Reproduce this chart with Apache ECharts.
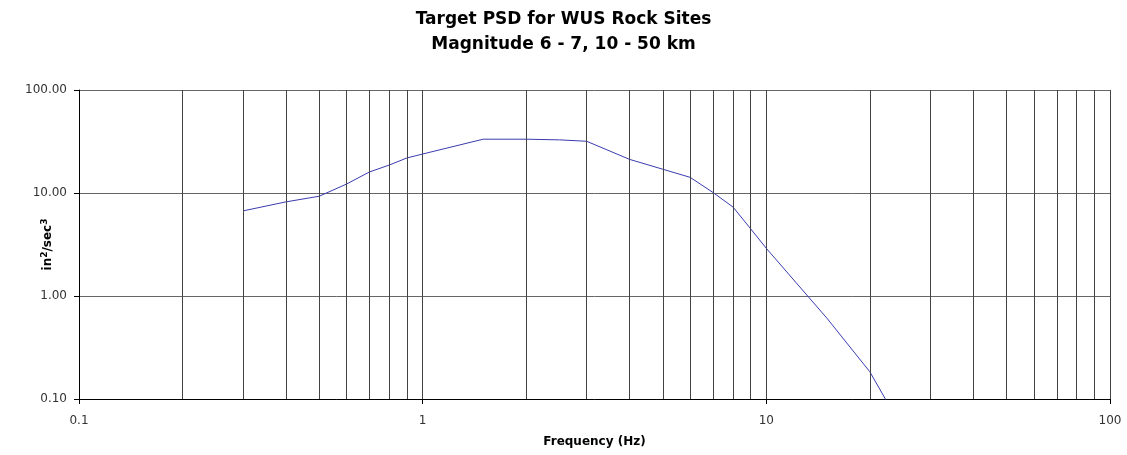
<!DOCTYPE html>
<html>
<head>
<meta charset="utf-8">
<script src="https://cdn.jsdelivr.net/npm/echarts@6/dist/echarts.min.js"></script>
<style>
  html, body { margin: 0; padding: 0; background: #fff; }
  #chart { width: 1127px; height: 455px; }
</style>
</head>
<body>
<div id="chart"></div>
<script>
// PSD curve (frequency in Hz, value in in^2/sec^3)
var freqHz = [0.3, 0.4, 0.5, 0.6, 0.7, 0.8, 0.9, 1, 1.5, 2, 2.5, 3, 4, 5, 6, 7, 8, 9, 10, 15, 20, 25];
var psdValues = [6.7, 8.2, 9.3, 12.2, 16.0, 18.7, 21.9, 23.9, 33.3, 33.3, 32.8, 31.8, 21.2, 17.0, 14.2, 10.1, 7.3, 4.5, 2.9, 0.61, 0.184, 0.05];

// minor vertical grid lines of the log x axis
var minorGridX = [0.2, 0.3, 0.4, 0.5, 0.6, 0.7, 0.8, 0.9,
  2, 3, 4, 5, 6, 7, 8, 9,
  20, 30, 40, 50, 60, 70, 80, 90];

var chart = echarts.init(document.getElementById('chart'), null, { renderer: 'canvas' });

var lineData = [];
for (var i = 0; i < freqHz.length; i++) {
  lineData.push([freqHz[i], psdValues[i]]);
}

var gridMarks = [];
for (var j = 0; j < minorGridX.length; j++) {
  gridMarks.push({ xAxis: minorGridX[j] });
}

var font = '"DejaVu Sans", sans-serif';

var option = {
  animation: false,
  title: {
    text: 'Target PSD for WUS Rock Sites\nMagnitude 6 - 7, 10 - 50 km',
    left: 'center',
    top: 2,
    textStyle: {
      fontFamily: font,
      fontSize: 17,
      fontWeight: 'bold',
      color: '#000',
      lineHeight: 25
    }
  },
  grid: {
    left: 79,
    right: 17,
    top: 90,
    bottom: 56,
    containLabel: false
  },
  xAxis: {
    type: 'log',
    logBase: 10,
    min: 0.1,
    max: 100,
    name: 'Frequency (Hz)',
    nameLocation: 'middle',
    nameGap: 37,
    nameMoveOverlap: false,
    nameTextStyle: { fontFamily: font, fontSize: 12, fontWeight: 'bold', color: '#000' },
    axisLine: { lineStyle: { color: '#000', width: 1 } },
    axisTick: { show: true, length: 5, lineStyle: { color: '#000' } },
    axisLabel: {
      fontFamily: font,
      fontSize: 12,
      color: '#333',
      margin: 16,
      formatter: function (v) { return String(Math.round(v * 10) / 10); }
    },
    splitLine: { show: true, lineStyle: { color: '#444', width: 1 } }
  },
  yAxis: {
    type: 'log',
    logBase: 10,
    min: 0.1,
    max: 100,
    name: 'in{sup|2}/sec{sup|3}',
    nameLocation: 'middle',
    nameRotate: 90,
    nameGap: 24,
    nameMoveOverlap: false,
    nameTextStyle: {
      fontFamily: font,
      fontSize: 12,
      fontWeight: 'bold',
      color: '#000',
      rich: {
        sup: { fontFamily: font, fontSize: 9, fontWeight: 'bold', color: '#000', verticalAlign: 'top', padding: [0, 0, 6, 0] }
      }
    },
    axisLine: { show: true, lineStyle: { color: '#000', width: 1 } },
    axisTick: { show: true, length: 5, lineStyle: { color: '#000' } },
    axisLabel: {
      fontFamily: font,
      fontSize: 12,
      color: '#333',
      margin: 12,
      formatter: function (v) { return v.toFixed(2); }
    },
    splitLine: { show: true, lineStyle: { color: '#666', width: 1 } }
  },
  series: [
    {
      name: 'grid',
      type: 'line',
      data: [],
      silent: true,
      markLine: {
        silent: true,
        symbol: 'none',
        label: { show: false },
        lineStyle: { color: '#444', type: 'solid', width: 1 },
        data: gridMarks
      }
    },
    {
      name: 'PSD',
      type: 'line',
      data: lineData,
      symbol: 'none',
      clip: true,
      lineStyle: { color: '#3b3bb0', width: 1 }
    }
  ]
};

chart.setOption(option);
</script>
</body>
</html>
